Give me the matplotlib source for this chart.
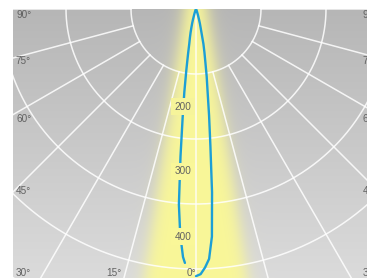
import numpy as np
import matplotlib
matplotlib.use("Agg")
import matplotlib.pyplot as plt

# ---------------- data (luminous intensity, cd) ----------------
theta_right = [0, 1, 2, 3, 4, 5, 6, 7, 8, 9, 10, 11, 12, 13, 14, 15, 16, 18, 20, 25, 30]
cd_right = [411, 408, 398, 385, 351, 283, 212, 165, 128, 105, 83, 68, 55, 38, 29, 23, 17, 9, 5, 2, 0]
theta_left = [-2.5, -3, -4, -5, -6, -7, -8, -9, -10, -11, -12, -13, -14, -15, -16, -18, -20, -25, -30]
cd_left = [391, 382, 348, 302, 228, 169, 129, 95, 71, 54, 45, 37, 29, 23, 17, 9, 5, 2, 0]

ring_values = [100, 200, 300, 400, 500]
ring_label_text = ["200", "300", "400"]
ring_label_pos = [150, 250, 350]
spoke_angles = [15, 30, 45, 60, 75, 90]
angle_label_side = ["90°", "75°", "60°", "45°"]
bottom_labels = ["30°", "15°", "0°"]

# ---------------- layout (pixels) ----------------
W_PX, H_PX = 367, 278
S = 0.65            # px per cd
CX, CY = 196, 9     # pole position (px from left / top)
L, RGT, BOT = 13, 379, 278

def ux(px):
    return (px - CX) / S

def uy(py):
    return -(py - CY) / S

fig = plt.figure(figsize=(W_PX / 100, H_PX / 100), dpi=100)
fig.patch.set_facecolor("white")

bg = fig.add_axes([L / W_PX, 0, (RGT - L) / W_PX, (H_PX - CY) / H_PX])
bg.set_xlim(ux(L), ux(RGT))
bg.set_ylim(uy(BOT), 0)
bg.set_xticks([]); bg.set_yticks([])
for sp in bg.spines.values():
    sp.set_visible(False)
bg.set_zorder(1)

# background gradient + light cone (styling)
nx, ny = RGT - L, BOT - CY
pxs = L + np.arange(nx) + 0.5
pys = CY + np.arange(ny) + 0.5
PX, PY = np.meshgrid(pxs, pys)
dx = PX - CX
dy = PY - CY
gray = 182 + (219 - 182) * (dy / ny)
w = 11 + 0.15 * dy
a = 1.0 / (1.0 + np.exp((np.abs(dx) - w) / 4.5))
yellow = np.array([249, 247, 152])
img = np.empty((ny, nx, 3))
for k in range(3):
    img[..., k] = gray * (1 - a) + yellow[k] * a
img = np.clip(img / 255.0, 0, 1)
bg.imshow(img, extent=[ux(L), ux(RGT), uy(BOT), 0], origin="upper",
          aspect="auto", interpolation="bilinear", zorder=0)

# ---------------- polar overlay ----------------
Rpx = 340
ax = fig.add_axes([(CX - Rpx) / W_PX, (H_PX - CY - Rpx) / H_PX,
                   2 * Rpx / W_PX, 2 * Rpx / H_PX], projection="polar")
ax.set_theta_zero_location("S")
ax.set_rlim(0, Rpx / S)
ax.set_axis_off()
ax.set_zorder(2)
rmax = Rpx / S

grid_kw = dict(color="white", lw=1.1, alpha=0.85, zorder=2)
tt = np.linspace(-np.pi, np.pi, 1441)
for r in ring_values:
    ln, = ax.plot(tt, np.full_like(tt, r), **grid_kw)
    ln.set_clip_path(bg.patch)
for ang in spoke_angles:
    for s in (-1, 1):
        ln, = ax.plot([np.deg2rad(s * ang)] * 2, [ring_values[0], rmax], **grid_kw)
        ln.set_clip_path(bg.patch)
ln, = ax.plot([0, 0], [0, rmax], **grid_kw)
ln.set_clip_path(bg.patch)

# intensity curve
th = np.deg2rad(np.concatenate([theta_left, theta_right[::-1]]))
cd = np.concatenate([cd_left, cd_right[::-1]])
ln, = ax.plot(th, cd, color="#1c9fd6", lw=1.7, zorder=3,
              solid_capstyle="round", solid_joinstyle="round")
ln.set_clip_path(bg.patch)

# ---------------- labels ----------------
txt_kw = dict(color="#626262", fontsize=7.2, family="Liberation Sans", zorder=5,
              transform=bg.transData)
side_py = [15, 61, 119, 191]
for lab, py in zip(angle_label_side, side_py):
    ax.text(ux(16), uy(py), lab, ha="left", va="center", **txt_kw)
    ax.text(ux(378), uy(py), lab, ha="right", va="center", **txt_kw)
bottom_px = [31, 122, 196]
for lab, px in zip(bottom_labels, bottom_px):
    ax.text(ux(px), uy(273), lab, ha="right", va="center", **txt_kw)
ax.text(ux(378), uy(273), bottom_labels[0], ha="right", va="center", **txt_kw)

lab_x = -13 / S
for lab, r in zip(ring_label_text, ring_label_pos):
    py = CY + r * S
    i = int(min(max(py - CY, 0), ny - 1))
    j = int(CX - 13 - L)
    fc = img[i, j]
    ax.text(lab_x, -r, lab, ha="center", va="center",
            bbox=dict(boxstyle="square,pad=0.35", fc=fc, ec="none"), **txt_kw)

fig.savefig("out.png", dpi=100)
